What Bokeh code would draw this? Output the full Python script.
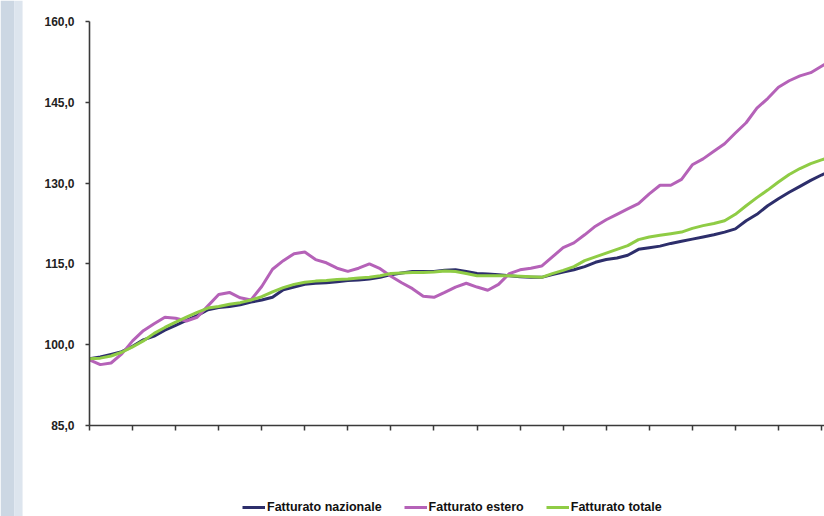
from bokeh.plotting import figure
from bokeh.models import (ColumnDataSource, Legend, LegendItem, FixedTicker,
                          CustomJSTickFormatter, Range1d, BoxAnnotation)
from bokeh.embed import file_html
from bokeh.resources import INLINE

# Index values (periods), ticks every 4 periods
periods = list(range(70))

nazionale = [97.4, 97.7, 98.2, 98.7, 99.7, 100.9, 101.6, 102.7, 103.6, 104.5,
             105.4, 106.5, 106.9, 107.1, 107.4, 107.9, 108.3, 108.8, 110.2, 110.7,
             111.2, 111.4, 111.5, 111.7, 111.9, 112.0, 112.2, 112.5, 113.0, 113.3,
             113.6, 113.6, 113.6, 113.8, 113.9, 113.6, 113.2, 113.1, 113.0, 112.8,
             112.6, 112.5, 112.5, 113.0, 113.5, 113.9, 114.5, 115.3, 115.8, 116.1,
             116.6, 117.7, 118.0, 118.3, 118.8, 119.2, 119.6, 120.0, 120.4, 120.9,
             121.5, 123.0, 124.2, 125.8, 127.1, 128.3, 129.4, 130.5, 131.5, 132.4]

estero = [97.2, 96.3, 96.6, 98.3, 100.7, 102.6, 103.9, 105.1, 104.9, 104.4,
          105.1, 107.2, 109.3, 109.7, 108.7, 108.3, 110.8, 114.0, 115.6, 116.9,
          117.2, 115.8, 115.2, 114.2, 113.6, 114.2, 115.0, 114.1, 112.7, 111.5,
          110.4, 109.0, 108.8, 109.7, 110.7, 111.4, 110.7, 110.1, 111.2, 113.2,
          113.9, 114.2, 114.6, 116.3, 118.0, 118.9, 120.4, 122.0, 123.2, 124.2,
          125.2, 126.2, 128.0, 129.6, 129.6, 130.7, 133.4, 134.5, 135.9, 137.3,
          139.3, 141.2, 143.9, 145.7, 147.8, 149.0, 149.9, 150.5, 151.7, 152.9]

totale = [97.4, 97.5, 97.9, 98.6, 99.6, 100.7, 102.1, 103.2, 104.2, 105.1,
          106.0, 106.8, 107.1, 107.5, 107.8, 108.3, 108.9, 109.8, 110.6, 111.2,
          111.6, 111.8, 111.9, 112.1, 112.2, 112.4, 112.5, 112.8, 113.2, 113.3,
          113.4, 113.4, 113.5, 113.7, 113.6, 113.2, 112.8, 112.8, 112.8, 112.8,
          112.7, 112.6, 112.5, 113.2, 113.8, 114.5, 115.6, 116.3, 117.0, 117.7,
          118.4, 119.5, 120.0, 120.3, 120.6, 120.9, 121.6, 122.1, 122.5, 123.0,
          124.2, 125.8, 127.3, 128.7, 130.2, 131.6, 132.7, 133.6, 134.3, 134.9]

y_ticks = [85, 100, 115, 130, 145, 160]
x_ticks = list(range(0, 69, 4))
labels = ["Fatturato nazionale", "Fatturato estero", "Fatturato totale"]
colors = ["#2d2e6b", "#b562b8", "#8fcc45"]

source = ColumnDataSource(dict(x=periods, naz=nazionale, est=estero, tot=totale))

# frame covers the whole figure; axes are pinned inside it
p = figure(width=824, height=516, output_backend="svg", toolbar_location=None,
           x_range=Range1d(-8.27, 68.28), y_range=Range1d(68.1, 163.9),
           min_border=0)
p.outline_line_color = None
p.background_fill_color = "white"
p.border_fill_color = "white"
p.grid.visible = False

# light slide-background strip at the left edge (decoration)
p.add_layout(BoxAnnotation(right=-7.0, fill_color="#ccd7e3", fill_alpha=1.0,
                           line_color=None, level="underlay"))
p.add_layout(BoxAnnotation(left=-7.0, right=-6.22, fill_color="#dde5ee", fill_alpha=1.0,
                           line_color=None, level="underlay"))

r1 = p.line("x", "naz", source=source, line_color=colors[0], line_width=3)
r2 = p.line("x", "est", source=source, line_color=colors[1], line_width=3)
r3 = p.line("x", "tot", source=source, line_color=colors[2], line_width=3)

# y axis
ya = p.yaxis[0]
ya.fixed_location = 0
ya.bounds = (85, 160)
ya.ticker = FixedTicker(ticks=y_ticks)
ya.formatter = CustomJSTickFormatter(code="return tick.toFixed(1).replace('.', ',');")
ya.major_label_text_font = "Liberation Sans"
ya.major_label_text_font_style = "bold"
ya.major_label_text_font_size = "12px"
ya.major_label_text_color = "#222222"
ya.major_label_standoff = 11
ya.axis_line_color = "#3a3a3a"
ya.axis_line_width = 1.6
ya.major_tick_line_color = "#3a3a3a"
ya.major_tick_line_width = 1.5
ya.major_tick_in = 0
ya.major_tick_out = 4
ya.minor_tick_line_color = None

# x axis (no labels)
xa = p.xaxis[0]
xa.fixed_location = 85
xa.bounds = (0, 70)
xa.ticker = FixedTicker(ticks=x_ticks)
xa.formatter = CustomJSTickFormatter(code="return '';")
xa.axis_line_color = "#3a3a3a"
xa.axis_line_width = 1.6
xa.major_tick_line_color = "#3a3a3a"
xa.major_tick_line_width = 1.5
xa.major_tick_in = 0
xa.major_tick_out = 5
xa.minor_tick_line_color = None

legend = Legend(items=[LegendItem(label=labels[0], renderers=[r1]),
                       LegendItem(label=labels[1], renderers=[r2]),
                       LegendItem(label=labels[2], renderers=[r3])],
                orientation="horizontal", location=(242, 2),
                glyph_width=23, glyph_height=14, label_height=14,
                label_standoff=2, spacing=22, padding=0, margin=0,
                label_text_font="Liberation Sans", label_text_font_style="bold",
                label_text_font_size="12.5px", label_text_color="#111111",
                border_line_color=None, background_fill_alpha=0)
p.add_layout(legend, "center")

open("out.html", "w").write(file_html(p, INLINE))
